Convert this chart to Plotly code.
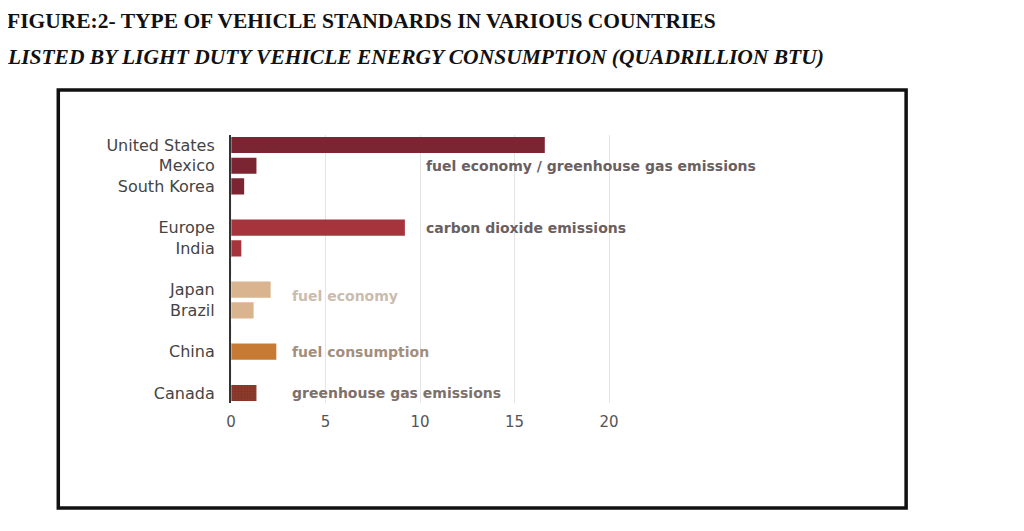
import plotly.graph_objects as go

# rows top to bottom; blank names are spacer rows between standard groups
countries = ["United States", "Mexico", "South Korea", " ",
             "Europe", "India", "  ",
             "Japan", "Brazil", "   ",
             "China", "    ",
             "Canada"]
energy = [16.6, 1.35, 0.7, None,
          9.2, 0.55, None,
          2.1, 1.2, None,
          2.4, None,
          1.35]
standard = ["fuel economy / greenhouse gas emissions"] * 3 + [None] + \
           ["carbon dioxide emissions"] * 2 + [None] + \
           ["fuel economy"] * 2 + [None] + \
           ["fuel consumption", None,
            "greenhouse gas emissions"]

x_ticks = [0, 5, 10, 15, 20]

# style per standard group: bar colour, label colour, label x, label row
group_style = {
    "fuel economy / greenhouse gas emissions": ("#7b2532", "#6a6060", 10.2, "Mexico", 0),
    "carbon dioxide emissions": ("#a5343c", "#6a6060", 10.2, "Europe", 0),
    "fuel economy": ("#dab38f", "#cbbcae", 3.1, "Japan", -6),
    "fuel consumption": ("#c77a34", "#a48e7c", 3.1, "China", 0),
    "greenhouse gas emissions": ("#8c3a2b", "#7d706a", 3.1, "Canada", 0),
}

W, H = 1024, 531
# the page body adds a small margin, so pixel spots are pulled back by it
OFF_X, OFF_Y = 10.5, 8


def px_x(px):
    return (px - OFF_X) / W


def px_y(py):
    return (H - (py - OFF_Y)) / H


fig = go.Figure()

for grp, (bar_col, txt_col, lx, lrow, lshift) in group_style.items():
    ys = [c for c, s in zip(countries, standard) if s == grp]
    xs = [v for v, s in zip(energy, standard) if s == grp]
    marker = dict(color=bar_col, line=dict(width=0))
    if grp == "greenhouse gas emissions":
        marker["pattern"] = dict(shape=".", size=3, solidity=0.25, fgcolor="#6a2a1e", bgcolor=bar_col)
    fig.add_trace(go.Bar(x=xs, y=ys, orientation="h", marker=marker,
                         name=grp, showlegend=False, hoverinfo="x+y"))
    fig.add_annotation(x=lx, y=lrow, xref="x", yref="y", text=grp, showarrow=False,
                       xanchor="left", yshift=lshift,
                       font=dict(family="DejaVu Sans", size=14, color=txt_col, weight="bold"))

# invisible trace keeps the spacer rows on the category axis
fig.add_trace(go.Bar(x=[0] * len(countries), y=countries, orientation="h",
                     showlegend=False, hoverinfo="skip", marker=dict(color="rgba(0,0,0,0)")))

fig.update_layout(
    width=W, height=H,
    margin=dict(l=0, r=0, t=0, b=0),
    paper_bgcolor="white", plot_bgcolor="white",
    barmode="overlay", bargap=0.22,
    xaxis=dict(range=[0, 21], domain=[px_x(229.5), px_x(628.5)],
               tickvals=x_ticks, showgrid=True, gridcolor="#e4e4e4", gridwidth=1,
               zeroline=False, showline=False, ticks="", ticklabelstandoff=8,
               tickfont=dict(family="DejaVu Sans", size=15, color="#555555")),
    yaxis=dict(categoryorder="array", categoryarray=countries, autorange=False,
               range=[len(countries) - 0.5, -0.5],
               domain=[px_y(403.3), px_y(134.7)],
               showline=True, linecolor="#333333", linewidth=2,
               showgrid=False, ticks="", ticklabelstandoff=11,
               tickfont=dict(family="DejaVu Sans", size=16, color="#444444")),
)

# outer frame round the chart
fig.add_shape(type="rect", xref="paper", yref="paper",
              x0=px_x(56), x1=px_x(908), y0=px_y(508), y1=px_y(90),
              line=dict(color="#111111", width=3.5))

fig.add_annotation(x=px_x(3), y=px_y(21), xref="paper", yref="paper",
                   text="<b>FIGURE:2- TYPE OF VEHICLE STANDARDS IN VARIOUS COUNTRIES</b>",
                   showarrow=False, xanchor="left", yanchor="middle", borderpad=0,
                   font=dict(family="Liberation Serif", size=21.5, color="#111111"))
fig.add_annotation(x=px_x(3), y=px_y(57), xref="paper", yref="paper",
                   text="<b><i>LISTED BY LIGHT DUTY VEHICLE ENERGY CONSUMPTION (QUADRILLION BTU)</i></b>",
                   showarrow=False, xanchor="left", yanchor="middle", borderpad=0,
                   font=dict(family="Liberation Serif", size=21.5, color="#111111"))

fig.write_html("out.html")
